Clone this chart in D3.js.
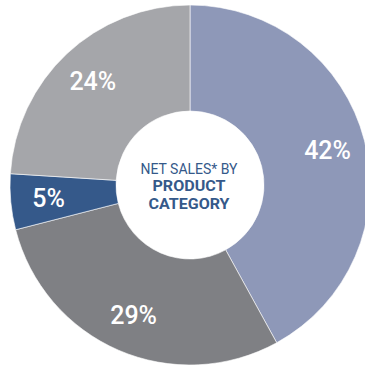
<!DOCTYPE html>
<html>
<head>
<meta charset="utf-8">
<script src="https://cdn.jsdelivr.net/npm/d3@7"></script>
<style>
  html, body { margin: 0; padding: 0; background: #ffffff; }
  svg { display: block; }
</style>
</head>
<body>
<div id="chart"></div>
<script>
const categories = ["A", "B", "C", "D"];
const values = [42, 29, 5, 24];
const labels = ["42%", "29%", "5%", "24%"];
const colors = ["#8e98b8", "#7f8084", "#35598a", "#a5a6aa"];
const centerLines = ["NET SALES* BY", "PRODUCT", "CATEGORY"];

const W = 365, H = 366;
const cx = 190, cy = 185;
const outerR = 180, innerR = 74, labelR = 142;

const svg = d3.select("#chart").append("svg").attr("width", W).attr("height", H);
const g = svg.append("g").attr("transform", `translate(${cx},${cy})`);

const pie = d3.pie().sort(null).value(d => d)(values);
const arc = d3.arc().innerRadius(innerR).outerRadius(outerR);
const labelArc = d3.arc().innerRadius(labelR).outerRadius(labelR);

g.selectAll("path.slice").data(pie).join("path")
  .attr("class", "slice")
  .attr("d", arc)
  .attr("fill", (d, i) => colors[i])
  .attr("stroke", "#ffffff")
  .attr("stroke-width", 0.6);

g.selectAll("text.lbl").data(pie).join("text")
  .attr("class", "lbl")
  .attr("transform", d => `translate(${labelArc.centroid(d)})`)
  .attr("text-anchor", "middle")
  .attr("dy", "0.36em")
  .attr("fill", "#ffffff")
  .style("font-family", "Roboto, 'Liberation Sans', Arial, sans-serif")
  .style("font-weight", 500)
  .style("font-size", "25px")
  .text((d, i) => labels[i]);

const ct = g.append("g").attr("fill", "#35598a")
  .style("font-family", "'Liberation Sans Narrow', Roboto, 'Liberation Sans', sans-serif");
const lineY = [-11.5, 6, 23.5];
const lineW = [97, 73, 81];
centerLines.forEach((t, i) => {
  ct.append("text")
    .attr("x", -1)
    .attr("y", lineY[i])
    .attr("text-anchor", "middle")
    .attr("textLength", lineW[i])
    .attr("lengthAdjust", "spacingAndGlyphs")
    .style("font-size", "15px")
    .style("font-weight", i === 0 ? 400 : 700)
    .text(t);
});
</script>
</body>
</html>
